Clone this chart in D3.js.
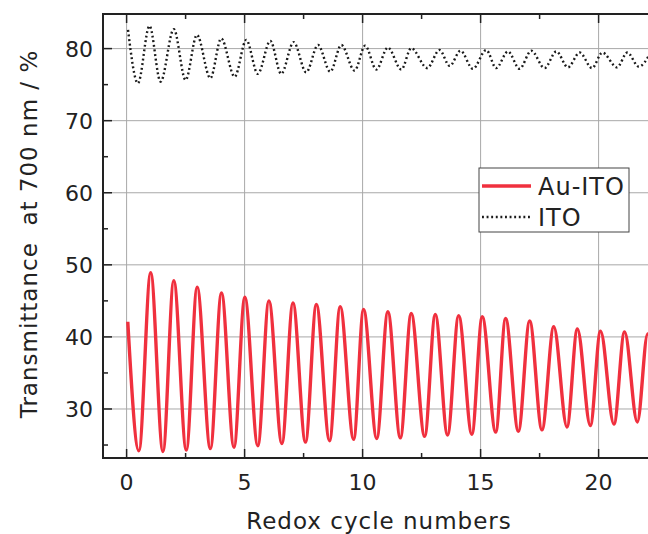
<!DOCTYPE html>
<html>
<head>
<meta charset="utf-8">
<script src="https://cdn.jsdelivr.net/npm/d3@7"></script>
<style>
  body { margin: 0; background: #fff; }
  svg text { font-family: "DejaVu Sans", sans-serif; fill: #222; }
</style>
</head>
<body>
<div id="chart"></div>
<script>
// Au-ITO transmittance, read at each peak and trough
const auX = [0.05, 0.52, 1.02, 1.54, 2.00, 2.53, 2.99, 3.55, 4.02, 4.55, 5.01, 5.56, 6.03, 6.58,
  7.05, 7.58, 8.04, 8.60, 9.05, 9.62, 10.04, 10.60, 11.07, 11.60, 12.06, 12.63, 13.08, 13.60,
  14.07, 14.63, 15.07, 15.64, 16.06, 16.60, 17.08, 17.60, 18.10, 18.66, 19.10, 19.65, 20.08,
  20.65, 21.10, 21.64, 22.08, 22.60];
const auY = [42.1, 24.2, 48.9, 24.1, 47.8, 24.3, 46.9, 24.5, 46.1, 24.7, 45.5, 24.9, 45.0, 25.2,
  44.7, 25.4, 44.5, 25.6, 44.2, 25.8, 43.8, 25.9, 43.5, 26.0, 43.25, 26.2, 43.1, 26.4,
  42.95, 26.5, 42.8, 26.8, 42.55, 26.9, 42.2, 27.1, 41.4, 27.5, 41.1, 27.7, 40.8,
  27.9, 40.7, 28.2, 40.4, 28.4];

// ITO transmittance
const itoX = [0.06, 0.48, 0.97, 1.44, 2.00, 2.50, 2.98, 3.55, 4.01, 4.58, 5.07, 5.56, 6.09, 6.55,
  7.08, 7.61, 8.11, 8.63, 9.10, 9.66, 10.11, 10.58, 11.07, 11.64, 12.06, 12.74, 13.26, 13.69,
  14.15, 14.67, 15.24, 15.66, 16.16, 16.65, 17.15, 17.71, 18.21, 18.70, 19.20, 19.72, 20.16,
  20.78, 21.22, 21.70, 22.20];
const itoY = [82.6, 75.2, 83.15, 75.4, 82.7, 75.65, 81.9, 75.9, 81.4, 76.1, 81.2, 76.5, 81.07, 76.5,
  80.9, 76.7, 80.5, 76.8, 80.5, 76.95, 80.4, 77.1, 80.15, 77.1, 80.05, 77.3, 79.8, 77.6,
  79.7, 77.2, 79.8, 77.3, 79.6, 77.2, 79.7, 77.3, 79.6, 77.4, 79.45, 77.3, 79.45,
  77.4, 79.45, 77.5, 79.4];

const xTicks = [0, 5, 10, 15, 20];
const xMinor = [2.5, 7.5, 12.5, 17.5, 22.5];
const yTicks = [30, 40, 50, 60, 70, 80];
const yMinor = [25, 35, 45, 55, 65, 75];

const W = 648, H = 534;
const margin = { top: 14, left: 103, bottom: 76 };
const plotH = H - margin.top - margin.bottom;

const x = d3.scaleLinear().domain([-1, 23]).range([margin.left, margin.left + 24 * 23.6]);
const y = d3.scaleLinear().domain([23.2, 84.8]).range([margin.top + plotH, margin.top]);

const svg = d3.select("#chart").append("svg")
  .attr("width", W)
  .attr("height", H);

const x0 = x.range()[0], x1 = x.range()[1];
const yB = y.range()[0], yT = y.range()[1];

// grid
svg.append("g").selectAll("line")
  .data(xTicks)
  .join("line")
  .attr("x1", d => x(d)).attr("x2", d => x(d))
  .attr("y1", yT).attr("y2", yB)
  .attr("stroke", "#a8a8a8").attr("stroke-width", 1);

svg.append("g").selectAll("line")
  .data(yTicks)
  .join("line")
  .attr("x1", x0).attr("x2", x1)
  .attr("y1", d => y(d)).attr("y2", d => y(d))
  .attr("stroke", "#a8a8a8").attr("stroke-width", 1);

// curves
const auData = auX.map((v, i) => [v, auY[i]]);
const itoData = itoX.map((v, i) => [v, itoY[i]]);

const line = d3.line()
  .x(d => x(d[0]))
  .y(d => y(d[1]))
  .curve(d3.curveMonotoneX);

svg.append("path")
  .datum(itoData)
  .attr("d", line)
  .attr("fill", "none")
  .attr("stroke", "#1a1a1a")
  .attr("stroke-width", 2.4)
  .attr("stroke-dasharray", "1.9 2.7");

svg.append("path")
  .datum(auData)
  .attr("d", line)
  .attr("fill", "none")
  .attr("stroke", "#f0303e")
  .attr("stroke-width", 3.4);

// axes (ticks inside)
const axis = svg.append("g").attr("stroke", "#222").attr("stroke-width", 2);
axis.append("line").attr("x1", x0).attr("x2", x1).attr("y1", yB).attr("y2", yB);
axis.append("line").attr("x1", x0).attr("x2", x1).attr("y1", yT).attr("y2", yT);
axis.append("line").attr("x1", x0).attr("x2", x0).attr("y1", yT - 1).attr("y2", yB + 1);

const ticks = svg.append("g").attr("stroke", "#222").attr("stroke-width", 1.5);
[[xTicks, 9], [xMinor, 5]].forEach(([arr, len]) => {
  ticks.selectAll(null).data(arr).join("line")
    .attr("x1", d => x(d)).attr("x2", d => x(d))
    .attr("y1", yB).attr("y2", yB - len);
  ticks.selectAll(null).data(arr).join("line")
    .attr("x1", d => x(d)).attr("x2", d => x(d))
    .attr("y1", yT).attr("y2", yT + len);
});
[[yTicks, 9], [yMinor, 5]].forEach(([arr, len]) => {
  ticks.selectAll(null).data(arr).join("line")
    .attr("x1", x0).attr("x2", x0 + len)
    .attr("y1", d => y(d)).attr("y2", d => y(d));
});

// tick labels
svg.append("g").selectAll("text")
  .data(xTicks)
  .join("text")
  .attr("x", d => x(d))
  .attr("y", yB + 32)
  .attr("text-anchor", "middle")
  .style("font-size", "22px")
  .text(d => d);

svg.append("g").selectAll("text")
  .data(yTicks)
  .join("text")
  .attr("x", x0 - 10)
  .attr("y", d => y(d) + 8)
  .attr("text-anchor", "end")
  .style("font-size", "22px")
  .text(d => d);

// axis titles
svg.append("text")
  .attr("x", 379)
  .attr("y", 529)
  .attr("text-anchor", "middle")
  .style("font-size", "23px")
  .style("letter-spacing", "1px")
  .text("Redox cycle numbers");

svg.append("text")
  .attr("transform", "translate(37,234) rotate(-90)")
  .attr("text-anchor", "middle")
  .style("font-size", "23px")
  .style("letter-spacing", "1px")
  .style("white-space", "pre")
  .text("Transmittance  at 700 nm / %");

// legend
const lg = svg.append("g");
lg.append("rect")
  .attr("x", 479).attr("y", 168).attr("width", 150).attr("height", 64)
  .attr("fill", "#fff").attr("stroke", "#444").attr("stroke-width", 1);
lg.append("line")
  .attr("x1", 482).attr("x2", 531).attr("y1", 186).attr("y2", 186)
  .attr("stroke", "#f0303e").attr("stroke-width", 3.4);
lg.append("line")
  .attr("x1", 482).attr("x2", 531).attr("y1", 217).attr("y2", 217)
  .attr("stroke", "#1a1a1a").attr("stroke-width", 2.4).attr("stroke-dasharray", "1.9 2.7");
lg.append("text").attr("x", 538).attr("y", 195)
  .style("font-size", "24px").style("letter-spacing", "1px").text("Au-ITO");
lg.append("text").attr("x", 538).attr("y", 226)
  .style("font-size", "24px").style("letter-spacing", "1px").text("ITO");
</script>
</body>
</html>
